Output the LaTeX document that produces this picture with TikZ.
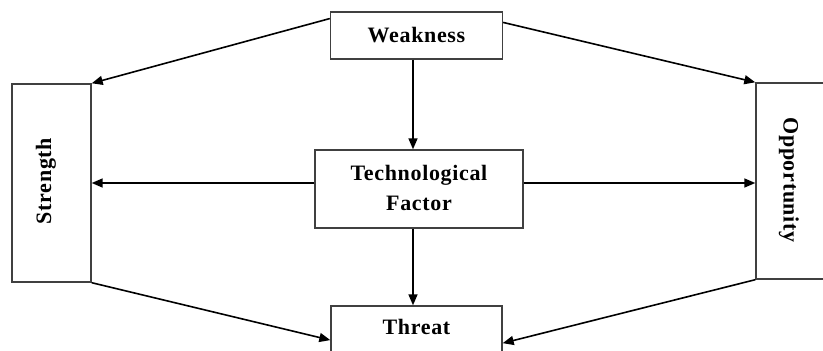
\documentclass[tikz,border=0pt]{standalone}
\usepackage{fontspec}
\setmainfont{Liberation Serif}
\usetikzlibrary{arrows.meta,calc}
\begin{document}
\begin{tikzpicture}[x=1pt,y=-1pt,
  box/.style={draw=black!75,line width=1.4pt,fill=none,inner sep=0pt},
  lbl/.style={font=\fontsize{22}{26}\selectfont\bfseries\addfontfeatures{LetterSpace=3},align=center,inner sep=0pt},
  arr/.style={line width=1.6pt,-{Triangle[length=11pt,width=9pt]}}]
\useasboundingbox (0,0) rectangle (823,351);
\clip (0,0) rectangle (823,351);
\node[box,minimum width=172pt,minimum height=47pt] (weak) at (416.5,35.5) {};
\node[lbl] (weakt) at (416.5,35) {Weakness};
\node[box,minimum width=79pt,minimum height=198pt] (str) at (51.5,183) {};
\node[lbl,rotate=90] (strt) at (46,181) {Strength};
\node[box,minimum width=76pt,minimum height=196pt] (opp) at (794,181) {};
\node[lbl,rotate=-90] (oppt) at (789,180) {Opportunity};
\node[box,minimum width=208pt,minimum height=78pt] (tech) at (419,189) {};
\node[lbl,text depth=0pt] (techt) at (419,188) {Technological\\[4pt]Factor};
\node[box,minimum width=171pt,minimum height=60pt] (thr) at (416.5,336) {};
\node[lbl] (thrt) at (416.5,327) {Threat};
\coordinate (ax) at (413,183);
\draw[arr] ($(weak.north west)!0.15!(weak.south west)$) -- (str.north east);
\draw[arr] ($(weak.north east)!0.23!(weak.south east)$) -- (opp.north west);
\draw[arr] (weak.south -| ax) -- (tech.north -| ax);
\draw[arr] (tech.west |- ax) -- (str.east |- ax);
\draw[arr] (tech.east |- ax) -- (opp.west |- ax);
\draw[arr] (tech.south -| ax) -- (thr.north -| ax);
\draw[arr] (str.south east) -- ($(thr.north west)!0.567!(thr.south west)$);
\draw[arr] (opp.south west) -- ($(thr.north east)!0.617!(thr.south east)$);
\end{tikzpicture}
\end{document}
